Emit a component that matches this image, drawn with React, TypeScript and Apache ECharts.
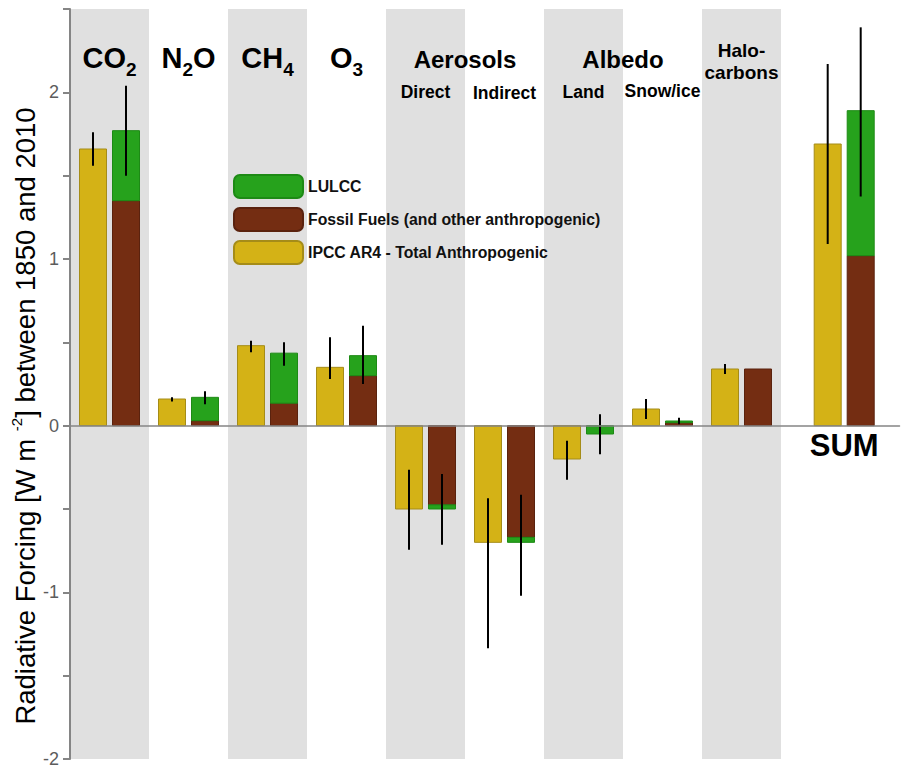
import React, { useEffect, useRef } from 'react';
import * as echarts from 'echarts';

// ---- data ----
const categories = ['CO2', 'N2O', 'CH4', 'O3', 'Direct', 'Indirect', 'Land', 'Snow/ice', 'Halocarbons', 'SUM'];
const categoryPositions = [0.5, 1.5, 2.5, 3.5, 4.5, 5.5, 6.5, 7.5, 8.5, 9.8];
const shadedBands = [[0, 1], [2, 3], [4, 5], [6, 7], [8, 9]];

const ipccTotal = [1.66, 0.16, 0.48, 0.35, -0.5, -0.7, -0.2, 0.1, 0.34, 1.69];
const ipccLow = [1.56, 0.145, 0.44, 0.28, -0.745, -1.335, -0.325, 0.04, 0.31, 1.09];
const ipccHigh = [1.76, 0.17, 0.51, 0.53, -0.265, -0.435, -0.09, 0.16, 0.37, 2.17];

const fossilFuels = [1.35, 0.03, 0.135, 0.3, -0.475, -0.67, 0, 0.018, 0.34, 1.02];
const lulcc = [0.42, 0.14, 0.3, 0.12, -0.025, -0.03, -0.05, 0.01, 0, 0.87];
const combinedLow = [1.5, 0.128, 0.36, 0.25, -0.715, -1.02, -0.172, 0.008, null, 1.375];
const combinedHigh = [2.04, 0.207, 0.5, 0.6, -0.29, -0.415, 0.068, 0.048, null, 2.39];

const yTicks = { min: -2, max: 2.5, step: 0.5 };

const seriesNames = {
  ipcc: 'IPCC AR4 - Total Anthropogenic',
  fossil: 'Fossil Fuels (and other anthropogenic)',
  lulcc: 'LULCC',
};

// ---- styles ----
const FONT = 'Liberation Sans, Arial, Helvetica, sans-serif';
const COLORS = {
  yellow: '#D4B216',
  yellowBorder: '#A58C18',
  brown: '#742D12',
  brownBorder: '#5A220E',
  green: '#26A21C',
  greenBorder: '#1D8A15',
  band: '#E0E0E0',
  axis: '#858585',
};
const BAR_W = 27;
const BAR_GAP = 6;

export default function App() {
  const ref = useRef<HTMLDivElement>(null);

  useEffect(() => {
    document.body.style.margin = '0';
    if (!ref.current) return;
    const chart = echarts.init(ref.current, null, { renderer: 'svg' });

    const half = (BAR_W + BAR_GAP) / 2;

    // [position, start, end] tables for each segment
    const ipccBars = categoryPositions.map((p, i) => [p, 0, ipccTotal[i]]);
    const fossilBars = categoryPositions.map((p, i) => [p, 0, fossilFuels[i]]);
    const lulccBars = categoryPositions.map((p, i) => {
      const base = Math.sign(fossilFuels[i]) === Math.sign(lulcc[i]) ? fossilFuels[i] : 0;
      return [p, base, base + lulcc[i]];
    });

    const errData = (lo: (number | null)[], hi: (number | null)[]) =>
      categoryPositions
        .map((p, i) => (lo[i] == null || hi[i] == null ? null : [p, lo[i], hi[i]]))
        .filter((d) => d !== null);

    const barRender = (offset: number) => (params: any, api: any) => {
      const x = api.value(0);
      const s = api.value(1);
      const e = api.value(2);
      if (s === e) return null;
      const a = api.coord([x, s]);
      const b = api.coord([x, e]);
      return {
        type: 'rect',
        shape: {
          x: a[0] + offset - BAR_W / 2,
          y: Math.min(a[1], b[1]),
          width: BAR_W,
          height: Math.abs(a[1] - b[1]),
        },
        style: api.style(),
      };
    };

    const errRender = (offset: number) => (params: any, api: any) => {
      const x = api.value(0);
      const a = api.coord([x, api.value(1)]);
      const b = api.coord([x, api.value(2)]);
      return {
        type: 'line',
        shape: { x1: a[0] + offset, y1: a[1], x2: b[0] + offset, y2: b[1] },
        style: { stroke: '#000', lineWidth: 2 },
      };
    };

    chart.setOption({
      animation: false,
      grid: { left: 70, right: 1.5, top: 9, bottom: 7, containLabel: false },
      xAxis: {
        type: 'value',
        min: 0,
        max: 10.5,
        z: 5,
        axisLine: { show: true, onZero: true, lineStyle: { color: COLORS.axis, width: 1.5 } },
        axisTick: { show: false },
        axisLabel: { show: false },
        splitLine: { show: false },
      },
      yAxis: {
        type: 'value',
        min: yTicks.min,
        max: yTicks.max,
        interval: yTicks.step,
        z: 5,
        axisLine: { show: true, lineStyle: { color: COLORS.axis, width: 2 } },
        axisTick: { show: true, length: 7, lineStyle: { color: COLORS.axis, width: 2 } },
        axisLabel: {
          margin: 11,
          color: '#5c5c5c',
          fontSize: 18,
          fontFamily: FONT,
          formatter: (v: number) => (Number.isInteger(v) ? String(v) : ''),
        },
        splitLine: { show: false },
      },
      legend: {
        orient: 'vertical',
        left: 233,
        top: 174,
        padding: 0,
        itemWidth: 69,
        itemHeight: 23,
        itemGap: 8,
        icon: 'roundRect',
        selectedMode: false,
        data: [seriesNames.lulcc, seriesNames.fossil, seriesNames.ipcc],
        textStyle: { fontFamily: FONT, fontWeight: 'bold', fontSize: 15.8, color: '#111' },
      },
      series: [
        {
          type: 'custom',
          name: 'bands',
          z: 1,
          silent: true,
          data: shadedBands,
          renderItem: (params: any, api: any) => {
            const a = api.coord([api.value(0), 0]);
            const b = api.coord([api.value(1), 0]);
            const cs = params.coordSys;
            return {
              type: 'rect',
              shape: { x: a[0], y: cs.y, width: b[0] - a[0], height: cs.height },
              style: { fill: COLORS.band },
            };
          },
        },
        {
          type: 'custom',
          name: seriesNames.ipcc,
          z: 2,
          data: ipccBars,
          renderItem: barRender(-half),
          itemStyle: { color: COLORS.yellow, borderColor: COLORS.yellowBorder, borderWidth: 1 },
        },
        {
          type: 'custom',
          name: seriesNames.fossil,
          z: 2,
          data: fossilBars,
          renderItem: barRender(half),
          itemStyle: { color: COLORS.brown, borderColor: COLORS.brownBorder, borderWidth: 1 },
        },
        {
          type: 'custom',
          name: seriesNames.lulcc,
          z: 2,
          data: lulccBars,
          renderItem: barRender(half),
          itemStyle: { color: COLORS.green, borderColor: COLORS.greenBorder, borderWidth: 1 },
        },
        {
          type: 'custom',
          name: 'ipccErr',
          z: 4,
          silent: true,
          data: errData(ipccLow, ipccHigh),
          renderItem: errRender(-half),
        },
        {
          type: 'custom',
          name: 'combinedErr',
          z: 4,
          silent: true,
          data: errData(combinedLow, combinedHigh),
          renderItem: errRender(half),
        },
      ],
    });

    const px = (pos: number) => chart.convertToPixel({ xAxisIndex: 0 }, pos) as number;
    const cx = (i: number) => px(categoryPositions[i]);

    const gasRich = {
      b: { fontSize: 29, lineHeight: 29, verticalAlign: 'top', fontWeight: 'bold', fontFamily: FONT },
      s: { fontSize: 19, lineHeight: 52, verticalAlign: 'middle', fontWeight: 'bold', fontFamily: FONT },
    };
    const gasLabel = (i: number, text: string) => ({
      type: 'text',
      x: cx(i),
      y: 43,
      z: 10,
      style: { text, rich: gasRich, align: 'center', verticalAlign: 'top', fill: '#000', fontFamily: FONT },
    });
    const plain = (x: number, y: number, text: string, size: number) => ({
      type: 'text',
      x,
      y,
      z: 10,
      style: {
        text,
        fontSize: size,
        fontWeight: 'bold',
        fontFamily: FONT,
        fill: '#000',
        align: 'center',
        verticalAlign: 'middle',
      },
    });

    chart.setOption({
      graphic: [
        gasLabel(0, '{b|CO}{s|2}'),
        gasLabel(1, '{b|N}{s|2}{b|O}'),
        gasLabel(2, '{b|CH}{s|4}'),
        gasLabel(3, '{b|O}{s|3}'),
        plain((cx(4) + cx(5)) / 2, 59, 'Aerosols', 24),
        plain(cx(4), 92, categories[4], 17.5),
        plain(cx(5), 93, categories[5], 17.5),
        plain((cx(6) + cx(7)) / 2, 59.5, 'Albedo', 24),
        plain(cx(6), 92, categories[6], 17.5),
        plain(cx(7), 91, categories[7], 17.5),
        plain(cx(8), 50.5, 'Halo-', 19),
        plain(cx(8), 72, 'carbons', 19),
        plain(cx(9), 445, categories[9], 31),
        {
          type: 'text',
          x: 25,
          y: 416,
          rotation: Math.PI / 2,
          z: 10,
          style: {
            text: 'Radiative Forcing [W m {sup|-2}] between 1850 and 2010',
            fontSize: 27.5,
            lineHeight: 32,
            fontFamily: FONT,
            fill: '#000',
            align: 'center',
            verticalAlign: 'middle',
            rich: {
              sup: { fontSize: 15, lineHeight: 15, verticalAlign: 'top', fontFamily: FONT },
            },
          },
        },
      ],
    });

    return () => chart.dispose();
  }, []);

  return <div ref={ref} style={{ width: 901, height: 768 }} />;
}
